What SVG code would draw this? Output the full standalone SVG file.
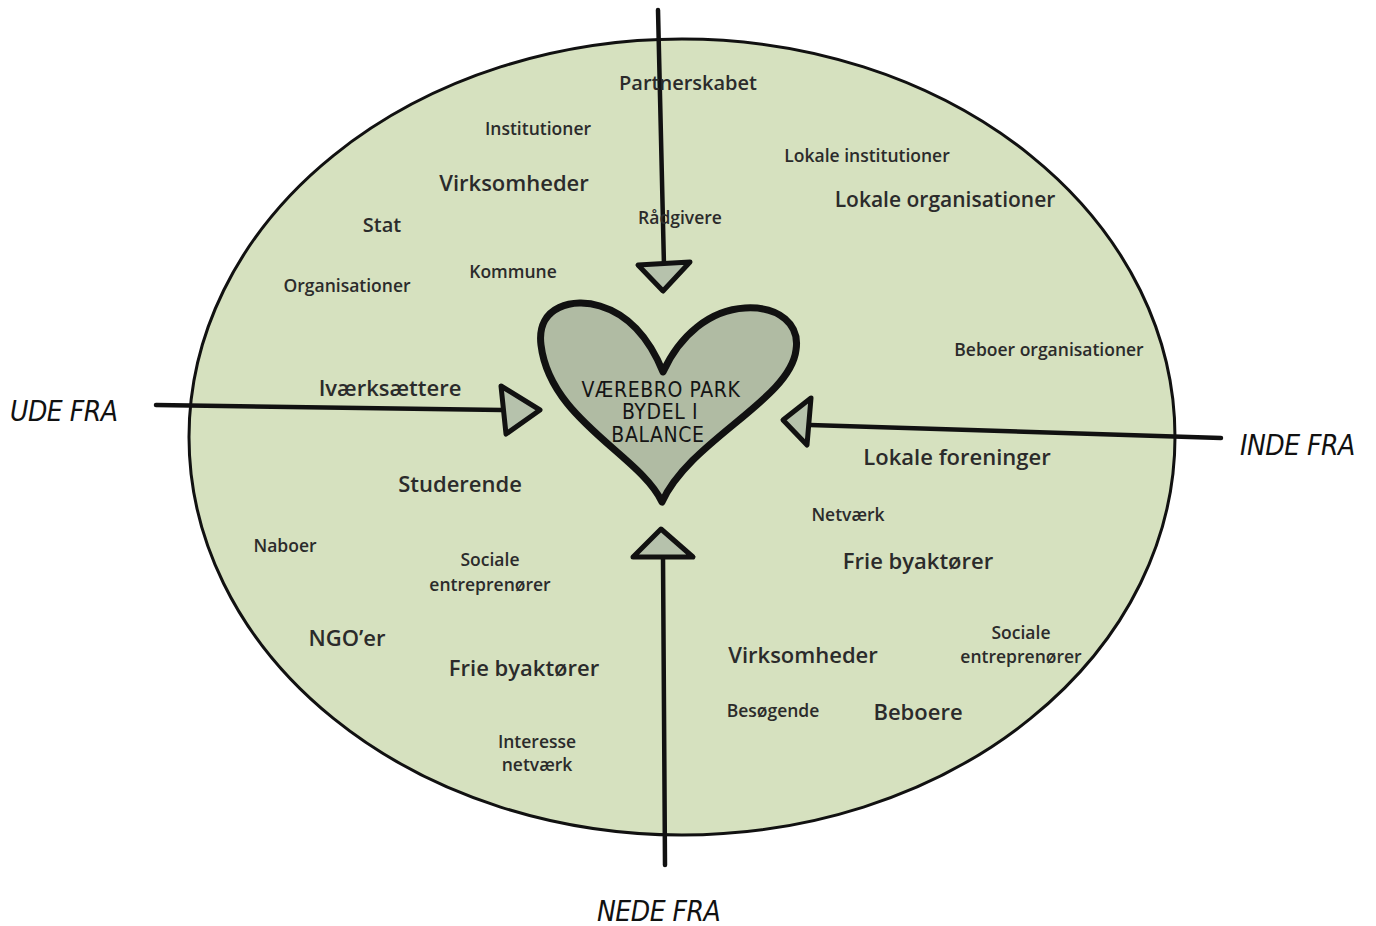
<svg xmlns="http://www.w3.org/2000/svg" width="1376" height="926" viewBox="0 0 1376 926">
<style>
.lbl{font-family:"Open Sans","Noto Sans",sans-serif;fill:#2b2b2b;text-anchor:middle;font-weight:600}
.s{font-size:17.5px}
.m{font-size:20px}
.l{font-size:22px}
.hand{font-family:"DejaVu Sans Condensed","DejaVu Sans",sans-serif;font-style:italic;fill:#111;font-size:28px;letter-spacing:-0.5px}
.hh{font-family:"DejaVu Sans Condensed","DejaVu Sans",sans-serif;fill:#151515;font-size:21px;text-anchor:middle;letter-spacing:0.6px}
.line{stroke:#111;stroke-width:4.5;fill:none;stroke-linecap:round}
.tri{fill:#b6c2ac;stroke:#111;stroke-width:5;stroke-linejoin:round}
</style>
<rect width="1376" height="926" fill="#ffffff"/>
<g id="field">
<ellipse cx="682" cy="437" rx="493" ry="398" fill="#d6e1bf" stroke="#111" stroke-width="3"/>
</g>
<g id="heart">
<path d="M662,502 C640,455 550,420 541,345 C536,305 575,298 600,306 C630,315 650,340 663,372 C680,335 710,310 745,308 C780,306 800,325 796,350 C790,400 690,440 662,502 Z" fill="#b0bba3" stroke="#111" stroke-width="7" stroke-linejoin="round"/>
<text class="hh" x="661" y="397">VÆREBRO PARK</text>
<text class="hh" x="660" y="419">BYDEL I</text>
<text class="hh" x="658" y="442">BALANCE</text>
</g>
<g id="connectors">
<path class="line" d="M658,10 L664,266"/>
<path class="tri" d="M638,265 L690,262 L663,291 Z"/>
<path class="line" d="M156,405 L502,410"/>
<path class="tri" d="M501,386 L540,410 L506,434 Z"/>
<path class="line" d="M1221,438 L810,425"/>
<path class="tri" d="M811,398 L783,420 L807,445 Z"/>
<path class="line" d="M665,865 L663,557"/>
<path class="tri" d="M633,557 L661,529 L693,557 Z"/>
</g>
<g id="directions">
<text class="hand" x="10" y="421">UDE FRA</text>
<text class="hand" x="1240" y="455">INDE FRA</text>
<text class="hand" x="597" y="921">NEDE FRA</text>
</g>
<g id="labels">
<text class="lbl m" x="688" y="90">Partnerskabet</text>
<text class="lbl s" x="538" y="135">Institutioner</text>
<text class="lbl l" x="514" y="191">Virksomheder</text>
<text class="lbl m" x="382" y="232">Stat</text>
<text class="lbl s" x="680" y="224">Rådgivere</text>
<text class="lbl s" x="513" y="278">Kommune</text>
<text class="lbl s" x="347" y="292">Organisationer</text>
<text class="lbl s" x="867" y="162">Lokale institutioner</text>
<text class="lbl l" x="945" y="207" style="font-size:21px">Lokale organisationer</text>
<text class="lbl s" x="1049" y="356">Beboer organisationer</text>
<text class="lbl l" x="390" y="396">Iværksættere</text>
<text class="lbl l" x="957" y="465">Lokale foreninger</text>
<text class="lbl l" x="460" y="492">Studerende</text>
<text class="lbl s" x="848" y="521">Netværk</text>
<text class="lbl s" x="285" y="552">Naboer</text>
<text class="lbl s" x="490" y="566">Sociale</text>
<text class="lbl s" x="490" y="591">entreprenører</text>
<text class="lbl l" x="918" y="569">Frie byaktører</text>
<text class="lbl l" x="347" y="646">NGO’er</text>
<text class="lbl l" x="524" y="676">Frie byaktører</text>
<text class="lbl l" x="803" y="663">Virksomheder</text>
<text class="lbl s" x="1021" y="639">Sociale</text>
<text class="lbl s" x="1021" y="663">entreprenører</text>
<text class="lbl s" x="773" y="717">Besøgende</text>
<text class="lbl l" x="918" y="720">Beboere</text>
<text class="lbl s" x="537" y="748">Interesse</text>
<text class="lbl s" x="537" y="771">netværk</text>
</g>
</svg>
